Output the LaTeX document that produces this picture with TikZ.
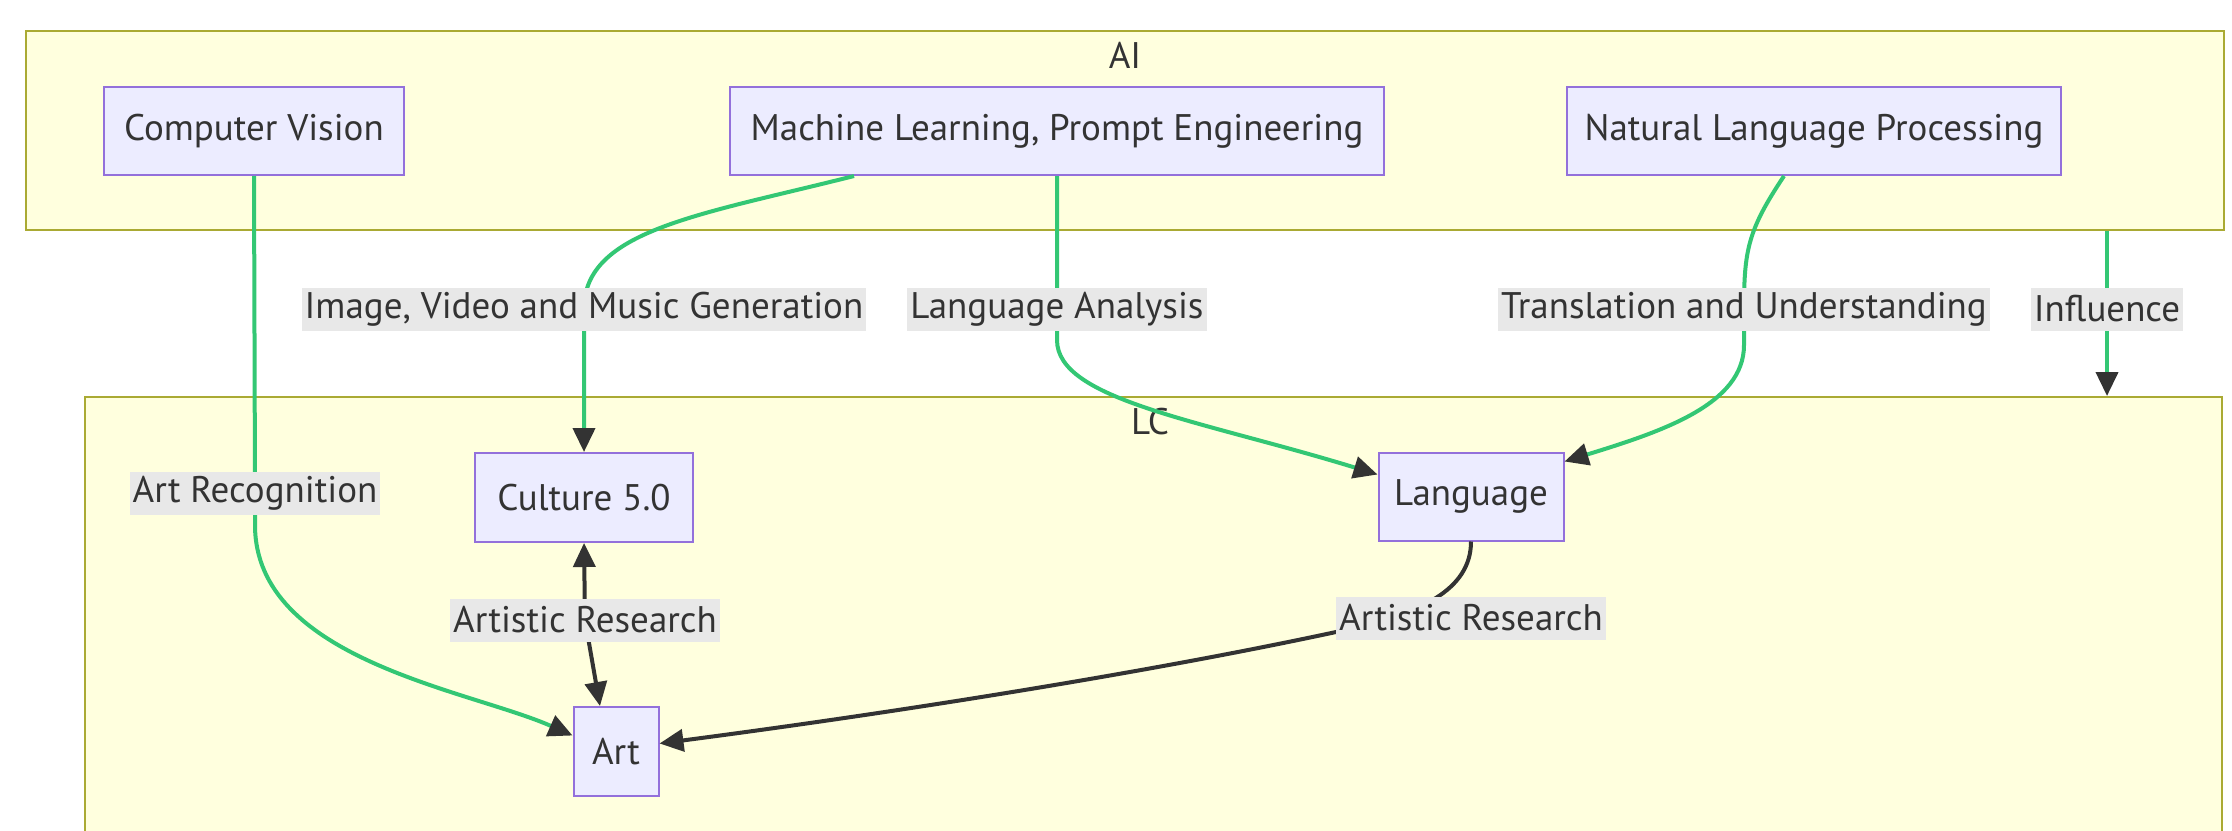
\documentclass[tikz,border=0pt]{standalone}
\usepackage{fontspec}
\setmainfont{PT Sans}
\usetikzlibrary{arrows.meta}

\definecolor{clfill}{HTML}{FFFFDE}
\definecolor{cldraw}{HTML}{AAAA33}
\definecolor{ndfill}{HTML}{ECECFF}
\definecolor{nddraw}{HTML}{9370DB}
\definecolor{ink}{HTML}{333333}
\definecolor{flow}{HTML}{33C774}
\definecolor{lblbg}{HTML}{E8E8E8}

\tikzset{
  cluster/.style={draw=cldraw, fill=clfill, line width=2pt, rectangle, inner sep=0pt},
  ctitle/.style={text=ink, inner sep=0pt},
  box/.style={draw=nddraw, fill=ndfill, line width=2pt, rectangle, text=ink,
    inner sep=0pt, minimum height=88pt},
  elabel/.style={fill=lblbg, text=ink, inner xsep=3pt, inner ysep=0pt, minimum height=43pt},
  flowline/.style={draw=flow, line width=4pt},
  inkline/.style={draw=ink, line width=4pt},
  arrowend/.style={-{Triangle[length=24pt,width=22pt,color=ink]}},
  bothends/.style={{Triangle[length=24pt,width=22pt,color=ink]}-{Triangle[length=24pt,width=22pt,color=ink]}},
}

\begin{document}
\begin{tikzpicture}[x=1pt, y=-1pt, font=\fontsize{37}{42}\selectfont]
  \clip (0,0) rectangle (2232,830);
  \fill[white] (0,0) rectangle (2232,830);

  % subgraphs
  \node[cluster, minimum width=2198pt, minimum height=199pt] (ai) at (1125,130.5) {};
  \node[cluster, minimum width=2137pt, minimum height=520pt] (lc) at (1153.5,657) {};
  \node[ctitle] (aititle) at (1125,55) {AI};
  \node[ctitle] (lctitle) at (1150,422) {LC};

  % nodes
  \node[box, minimum width=300pt] (cv) at (254,131) {Computer Vision};
  \node[box, minimum width=654pt] (ml) at (1057,131) {Machine Learning, Prompt Engineering};
  \node[box, minimum width=494pt] (nlp) at (1814,131) {Natural Language Processing};
  \node[box, minimum width=218pt, minimum height=89pt] (culture) at (584,497.5) {Culture 5.0};
  \node[box, minimum width=185pt, minimum height=88pt] (language) at (1471,496.5) {Language};
  \node[box, minimum width=85pt, minimum height=89pt] (art) at (616,751.5) {Art};

  % label anchors
  \coordinate (pImg)   at (584,309);
  \coordinate (pLang)  at (1057,309);
  \coordinate (pTrans) at (1744,309);
  \coordinate (pInfl)  at (2107,309);
  \coordinate (pRec)   at (255,493);
  \coordinate (pRes1)  at (585,620);
  \coordinate (pRes2)  at (1471,618);

  % connectors
  \draw[flowline, arrowend] (cv.south) -- (pRec) -- (255,525)
    .. controls (255,660) and (470,690) .. ([yshift=16pt]art.west);
  \draw[flowline, arrowend] ([xshift=-203pt]ml.south)
    .. controls (700,215) and (584,230) .. (pImg) -- (culture.north);
  \draw[flowline, arrowend] (ml.south) -- (pLang) -- (1057,340)
    .. controls (1057,400) and (1200,420) .. ([yshift=22pt]language.west);
  \draw[flowline, arrowend] ([xshift=-30pt]nlp.south)
    .. controls (1748,230) and (1744,250) .. (pTrans) -- (1744,345)
    .. controls (1744,405) and (1660,432) .. ([yshift=35pt]language.east);
  \draw[flowline, arrowend] (ai.south -| pInfl) -- (pInfl) -- (lc.north -| pInfl);
  \draw[inkline, bothends] (culture.south) -- (pRes1) -- ([xshift=-16pt]art.north);
  \draw[inkline, arrowend] (language.south)
    .. controls (1471,590) and (1420,615) .. (1336,632)
    .. controls (1150,672) and (900,712) .. ([yshift=8pt]art.east);

  % connector labels
  \node[elabel] (lImg)   at (pImg)   {Image, Video and Music Generation};
  \node[elabel] (lLang)  at (pLang)  {Language Analysis};
  \node[elabel] (lTrans) at (pTrans) {Translation and Understanding};
  \node[elabel] (lInfl)  at (pInfl)  {Influence};
  \node[elabel] (lRec)   at (pRec)   {Art Recognition};
  \node[elabel] (lRes1)  at (pRes1)  {Artistic Research};
  \node[elabel] (lRes2)  at (pRes2)  {Artistic Research};
\end{tikzpicture}
\end{document}
